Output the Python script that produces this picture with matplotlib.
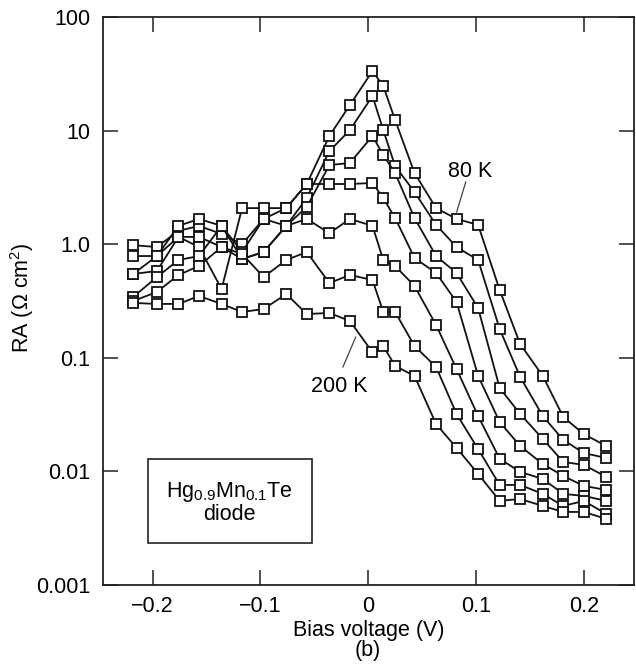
import numpy as np
import matplotlib
matplotlib.use("Agg")
import matplotlib.pyplot as plt

plt.rcParams['font.family'] = ['Liberation Sans', 'DejaVu Sans']
plt.rcParams['mathtext.default'] = 'regular'

# Bias voltage (V) of the measured points
bias_v = [-0.218, -0.196, -0.176, -0.157, -0.136, -0.117, -0.097, -0.076,
          -0.057, -0.036, -0.017, 0.004, 0.014, 0.025, 0.043, 0.063,
          0.082, 0.102, 0.122, 0.141, 0.162, 0.181, 0.200, 0.221]

# RA (Ohm cm^2), from 80 K (top) down to 200 K (bottom)
ra_80k = [0.98, 0.945, 1.31, 1.45, 1.23, 1.00, 1.67, 2.08, 3.39, 8.97, 16.8, 33.5,
          24.7, 12.4, 4.23, 2.08, 1.67, 1.48, 0.395, 0.132, 0.0692, 0.0301, 0.0213, 0.0167]
ra_t2 = [0.787, 0.787, 1.45, 1.67, 1.45, 0.854, 1.67, 1.45, 2.55, 6.61, 10.1, 20.2,
         10.1, 4.88, 2.88, 1.48, 0.945, 0.726, 0.179, 0.0678, 0.0307, 0.0189, 0.0145, 0.0131]
ra_t3 = [0.547, 0.581, 1.16, 1.16, 0.945, 0.741, 0.854, 1.45, 2.13, 4.98, 5.19, 8.97,
         6.10, 4.23, 1.70, 0.787, 0.558, 0.274, 0.0542, 0.0320, 0.0193, 0.0121, 0.0114, 0.00893]
ra_t4 = [0.547, 0.787, 1.16, 0.945, 0.403, 2.08, 2.08, 2.08, 3.39, 3.39, 3.39, 3.46,
         2.55, 1.70, 0.756, 0.558, 0.310, 0.0692, 0.0272, 0.0167, 0.0116, 0.00911, 0.00744, 0.00686]
ra_t5 = [0.343, 0.514, 0.726, 0.787, 1.45, 0.741, 0.854, 1.45, 1.67, 1.25, 1.67, 1.45,
         0.726, 0.643, 0.429, 0.194, 0.0797, 0.0307, 0.0129, 0.00988, 0.00857, 0.00633, 0.00608, 0.00549]
ra_t6 = [0.316, 0.380, 0.536, 0.643, 0.945, 0.820, 0.514, 0.726, 0.854, 0.455, 0.536, 0.484,
         0.253, 0.253, 0.127, 0.0830, 0.0320, 0.0157, 0.00759, 0.00759, 0.00633, 0.00496, 0.00549, 0.00422]
ra_200k = [0.304, 0.298, 0.298, 0.350, 0.298, 0.253, 0.269, 0.364, 0.243, 0.248, 0.211, 0.112,
           0.127, 0.0847, 0.0692, 0.0261, 0.0161, 0.00949, 0.00549, 0.00571, 0.00496, 0.00439, 0.00439, 0.00381]

x_ticks = [-0.2, -0.1, 0, 0.1, 0.2]
x_tick_labels = ['\u22120.2', '\u22120.1', '0', '0.1', '0.2']
y_ticks = [0.001, 0.01, 0.1, 1, 10, 100]
y_tick_labels = ['0.001', '0.01', '0.1', '1.0', '10', '100']

fs = 15.5

fig = plt.figure(figsize=(6.36, 6.70), dpi=100)
ax = fig.add_axes([0.162, 0.127, 0.8355, 0.8475])

for ra in [ra_80k, ra_t2, ra_t3, ra_t4, ra_t5, ra_t6, ra_200k]:
    ax.plot(bias_v, ra, color='#111111', lw=1.3, marker='s', ms=7,
            mfc='white', mec='#111111', mew=1.3)

ax.set_yscale('log')
ax.set_xlim(-0.246, 0.247)
ax.set_ylim(0.001, 100)

ax.set_xticks(x_ticks)
ax.set_xticklabels(x_tick_labels)
ax.set_yticks(y_ticks)
ax.set_yticklabels(y_tick_labels)
ax.minorticks_off()
ax.tick_params(direction='in', length=11, width=1.1, top=True, right=True,
               labelsize=fs, color='#222222')
ax.tick_params(axis='x', pad=8)
ax.tick_params(axis='y', pad=9)
for sp in ax.spines.values():
    sp.set_linewidth(1.3)
    sp.set_color('#222222')

ax.set_xlabel('Bias voltage (V)', fontsize=fs, labelpad=2)
ax.set_ylabel('RA (\u03a9 cm$^2$)', fontsize=fs)
ax.yaxis.set_label_coords(-0.127, 0.505)
fig.text(0.579, 0.029, '(b)', fontsize=fs, ha='center', va='center')

# temperature labels with pointer lines
ax.text(0.0942, 4.41, '80 K', fontsize=fs, ha='center', va='center')
ax.plot([0.0905, 0.0821], [3.53, 1.92], color='#444444', lw=0.9)
ax.text(-0.0265, 0.0553, '200 K', fontsize=fs, ha='center', va='center')
ax.plot([-0.0116, -0.0234], [0.152, 0.083], color='#444444', lw=0.9)

ax.text(0.2387, 0.146, 'Hg$_{0.9}$Mn$_{0.1}$Te\ndiode', transform=ax.transAxes,
        fontsize=fs, ha='center', va='center', multialignment='center',
        linespacing=1.0,
        bbox=dict(boxstyle='square,pad=0.85', fc='white', ec='#222222', lw=1.2))

fig.savefig('out.png', dpi=100)
